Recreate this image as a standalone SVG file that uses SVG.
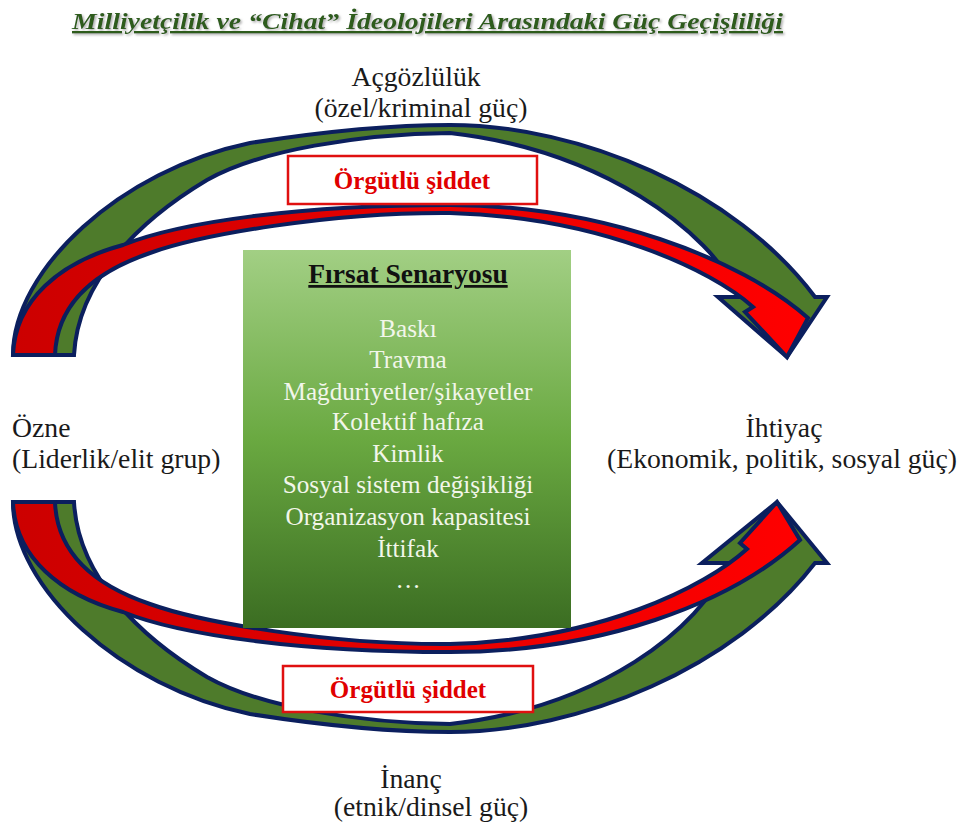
<svg xmlns="http://www.w3.org/2000/svg" width="962" height="823" viewBox="0 0 962 823">
<defs>
<linearGradient id="boxg" x1="0" y1="0" x2="0" y2="1">
<stop offset="0" stop-color="#a2cf84"/>
<stop offset="0.5" stop-color="#6aa941"/>
<stop offset="1" stop-color="#3b6d22"/>
</linearGradient>
<linearGradient id="redg" x1="0" y1="0" x2="1" y2="0">
<stop offset="0" stop-color="#cc0000"/>
<stop offset="1" stop-color="#ff0000"/>
</linearGradient>
<filter id="sh" x="-5%" y="-30%" width="110%" height="160%">
<feDropShadow dx="1.5" dy="1.5" stdDeviation="1" flood-color="#9a9a9a" flood-opacity="0.8"/>
</filter>
</defs>
<style>
.lbl{font-family:"Liberation Serif","Times New Roman",serif;font-size:27.7px;fill:#1a1a1a;text-anchor:middle}
.lbll{font-family:"Liberation Serif","Times New Roman",serif;font-size:27.7px;fill:#1a1a1a}
.g{fill:#4e7b2b;stroke:#0b1f5e;stroke-width:4;stroke-linejoin:miter}
.r{fill:url(#redg);stroke:#0b1f5e;stroke-width:4;stroke-linejoin:miter}
.vbox{fill:#ffffff;stroke:#e01010;stroke-width:2.5}
.vtxt{font-family:"Liberation Serif","Times New Roman",serif;font-size:25px;font-weight:bold;fill:#e00000;text-anchor:middle}
.item{font-family:"Liberation Serif","Times New Roman",serif;font-size:25.2px;fill:#f2f6ea;text-anchor:middle}
</style>
<rect width="962" height="823" fill="#ffffff"/>
<text x="72" y="29" font-family="Liberation Serif, Times New Roman, serif" font-size="24" font-style="italic" font-weight="bold" fill="#2e5c1e" text-decoration="underline" textLength="711" lengthAdjust="spacingAndGlyphs" filter="url(#sh)">Milliyetçilik ve “Cihat” İdeolojileri Arasındaki Güç Geçişliliği</text>

<g id="connectors">
<g id="top-arrows">
<path class="g" d="M13,355 C13,270 120,170 250,143 C320,132 390,125 450,125 C580,125 735,190 815,297 L827,297 L787,357 L718,297 L740,297 C710,230 600,150 450,133 C360,134 260,150 207,180 C140,220 78,280 74,355 Z"/>
<path class="r" d="M13,355 C15,300 60,262 123,245 C180,222 300,205 450,205 C600,205 740,258 808,318 L787,357 L745,312 L753,307 C712,270 600,217 450,213 C330,212 200,235 150,253 C100,270 57,300 55,355 Z"/>
</g>
<g id="bottom-arrows" transform="matrix(1 0 0 -1 0 857)">
<path class="g" d="M13,355 C13,270 120,170 250,143 C320,132 390,125 450,125 C580,125 735,190 815,294 L827,294 L777,355 L702,294 L728,294 C700,228 600,150 450,133 C360,134 260,150 207,180 C140,220 78,280 74,355 Z"/>
<path class="r" d="M13,355 C15,300 60,262 123,245 C180,222 300,205 450,205 C600,205 730,253 800,317 L777,355 L740,314 L747,308 C705,270 600,217 450,213 C330,212 200,235 150,253 C100,270 57,300 55,355 Z"/>
</g>
</g>

<g id="violence-top">
<rect class="vbox" x="288" y="156" width="249" height="48"/>
<text class="vtxt" x="412" y="189">Örgütlü şiddet</text>
</g>
<g id="violence-bottom">
<rect class="vbox" x="283" y="666" width="250" height="46"/>
<text class="vtxt" x="408" y="698">Örgütlü şiddet</text>
</g>

<g id="greed">
<text class="lbl" x="416" y="86">Açgözlülük</text>
<text class="lbl" x="421" y="117">(özel/kriminal güç)</text>
</g>
<g id="subject">
<text class="lbll" x="12" y="437">Özne</text>
<text class="lbll" x="12" y="468">(Liderlik/elit grup)</text>
</g>
<g id="need">
<text class="lbl" x="784" y="437">İhtiyaç</text>
<text class="lbl" x="782" y="468">(Ekonomik, politik, sosyal güç)</text>
</g>
<g id="belief">
<text class="lbl" x="411" y="788">İnanç</text>
<text class="lbl" x="431" y="816">(etnik/dinsel güç)</text>
</g>

<g id="opportunity">
<rect x="243" y="250" width="328" height="378" fill="url(#boxg)"/>
<text x="408" y="283" font-family="Liberation Serif, Times New Roman, serif" font-size="27.5" font-weight="bold" fill="#111" text-anchor="middle" text-decoration="underline">Fırsat Senaryosu</text>
<text class="item" x="408" y="337">Baskı</text>
<text class="item" x="408" y="368">Travma</text>
<text class="item" x="408" y="400">Mağduriyetler/şikayetler</text>
<text class="item" x="408" y="430">Kolektif hafıza</text>
<text class="item" x="408" y="462">Kimlik</text>
<text class="item" x="408" y="493">Sosyal sistem değişikliği</text>
<text class="item" x="408" y="525">Organizasyon kapasitesi</text>
<text class="item" x="408" y="557">İttifak</text>
<text class="item" x="408" y="588">…</text>
</g>
</svg>
